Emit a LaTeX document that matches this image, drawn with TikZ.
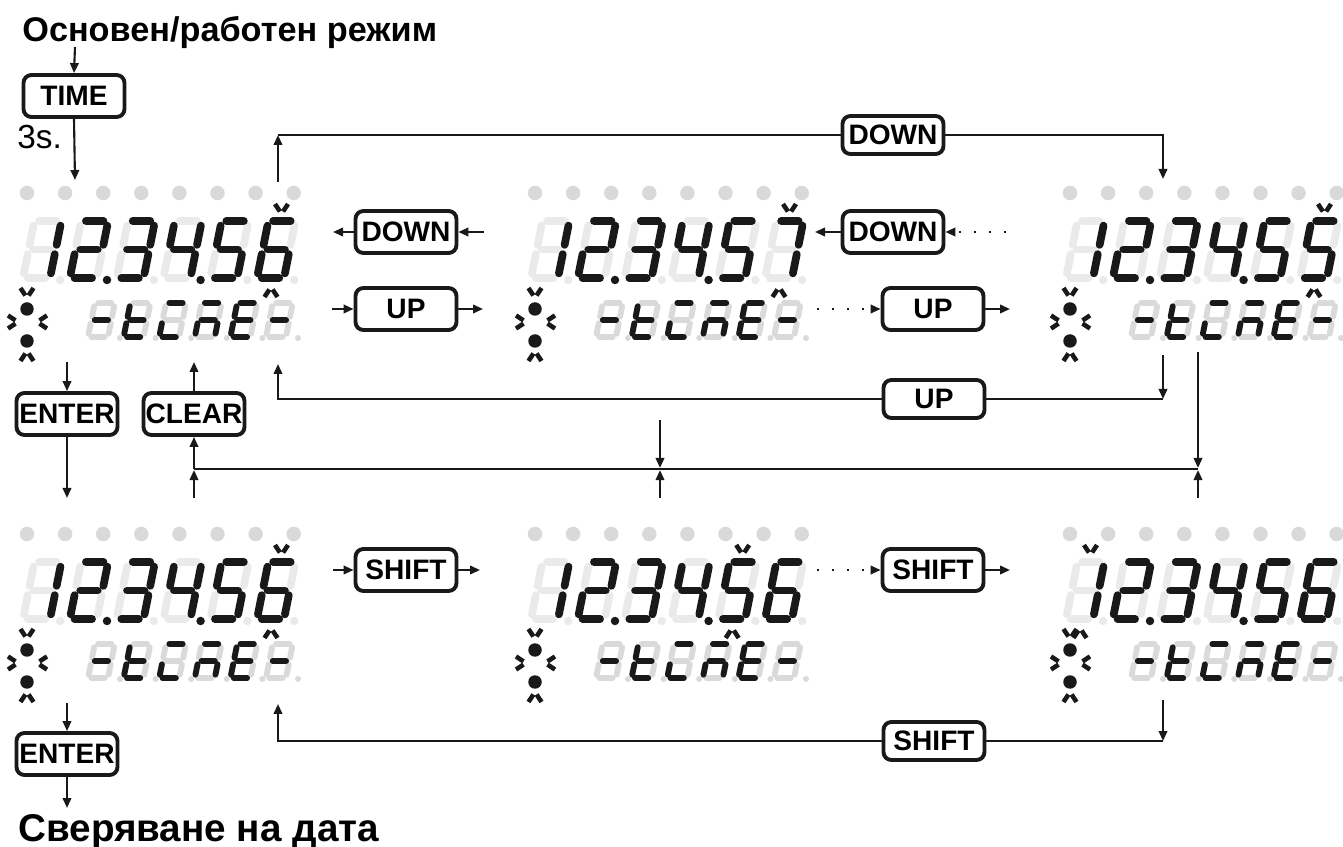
\documentclass[tikz,border=0pt]{standalone}
\usepackage{fontspec}
\setmainfont{Liberation Sans}
\usetikzlibrary{arrows.meta}

\definecolor{inkblack}{RGB}{25,25,25}
\definecolor{lampgray}{RGB}{217,217,217}
\definecolor{segpale}{RGB}{234,234,234}
\definecolor{segdim}{RGB}{218,218,218}

% segments of one digit, unit box, origin bottom left, y down
\def\segpa{(0,-1)--(1,-1)}
\def\segpb{(1,-1)--(1,-0.5)}
\def\segpc{(1,-0.5)--(1,0)}
\def\segpd{(0,0)--(1,0)}
\def\segpe{(0,-0.5)--(0,0)}
\def\segpf{(0,-1)--(0,-0.5)}
\def\segpg{(0,-0.5)--(1,-0.5)}

% lit segments
\def\dgOne{b,c}
\def\dgTwo{a,b,g,e,d}
\def\dgThree{a,b,g,c,d}
\def\dgFour{f,g,b,c}
\def\dgFive{a,f,g,c,d}
\def\dgSix{a,f,g,e,c,d}
\def\dgSeven{a,b,c}
\def\chDash{g}
\def\chT{f,g,e,d}
\def\chMl{a,e,d}
\def\chMr{a,g,e,c}
\def\chE{a,f,g,e,d}

\def\rowStd{\dgOne,\dgTwo,\dgThree,\dgFour,\dgFive,\dgSix}
\def\rowUp{\dgOne,\dgTwo,\dgThree,\dgFour,\dgFive,\dgSeven}
\def\rowDn{\dgOne,\dgTwo,\dgThree,\dgFour,\dgFive,\dgFive}

% #1 base point, #2 size style, #3 unlit colour, #4 lit segments
\newcommand{\segdigit}[4]{%
  \begin{scope}[shift={#1},xslant=0.2,#2]
    \foreach \s in {a,b,c,d,e,f,g}{%
      \expandafter\let\expandafter\segcur\csname segp\s\endcsname
      \draw[#3] \segcur;}
    \edef\seglist{#4}%
    \foreach \s in \seglist{%
      \expandafter\let\expandafter\segcur\csname segp\s\endcsname
      \draw[inkblack] \segcur;}
  \end{scope}}

% #1,#2 shift, #3 top digits, #4 cursor digit
\newcommand{\showdisp}[4]{%
  \begin{scope}[shift={(#1,#2)}]
    \foreach \k in {0,...,7} \fill[lampgray] (27+38.1*\k,193) circle (0.145cm);
    \foreach \dg [count=\i] in #3 {%
      \pgfmathsetmacro\bx{23+46.8*(\i-1)}
      \segdigit{(\bx,278)}{segbig}{segpale}{\dg}}
    \foreach \i/\c in {1/segpale,2/inkblack,3/segpale,4/inkblack,5/segpale,6/segpale}
      \fill[\c] (13.4+46.8*\i,280) circle (0.085cm);
    \pgfmathsetmacro\cx{23+46.8*(#4-1)}
    \pic at (\cx+24.5,209) {chev};
    \pic[rotate=180] at (\cx+14,292) {chev};
    \foreach \ch [count=\j] in {\chDash,\chT,\chMl,\chMr,\chE,\chDash} {%
      \pgfmathsetmacro\sx{88+35.6*(\j-1)}
      \segdigit{(\sx,337)}{segsmall}{segdim}{\ch}}
    \foreach \j in {1,...,6} \fill[segdim] (84.4+35.6*\j,338) circle (0.06cm);
    % blinking mark
    \pic at (27,293) {chev};
    \fill[inkblack] (27,309) circle (0.135cm);
    \pic[rotate=90] at (13,322) {chev};
    \pic[rotate=-90] at (42,322) {chev};
    \fill[inkblack] (27,341) circle (0.135cm);
    \pic[rotate=180] at (27,356) {chev};
  \end{scope}}

\begin{document}
\begin{tikzpicture}[x=0.02cm,y=-0.02cm,
  key/.style={draw=inkblack,line width=2.2pt,rounded corners=4.5pt,minimum width=2.02cm,minimum height=0.84cm,inner sep=1pt,font=\bfseries\fontsize{16}{18}\selectfont},
  loopkey/.style={key,minimum height=0.76cm},
  arr/.style={-{Triangle[length=0.2cm,width=0.17cm]},line width=1.2pt,draw=inkblack},
  meet/.style={arr,shorten >=0.6pt},
  dotarr/.style={arr,dash pattern=on 1.2pt off 7.3pt},
  wire/.style={line width=1.2pt,draw=inkblack},
  ttl/.style={anchor=base west,inner sep=0pt,font=\bfseries\fontsize{19.5}{23}\selectfont},
  segbig/.style={xscale=27,yscale=57,line width=4.4pt,line cap=round,shorten <=2.7pt,shorten >=2.7pt},
  segsmall/.style={xscale=20,yscale=34,line width=3.3pt,line cap=round,shorten <=1.9pt,shorten >=1.9pt},
  chev/.pic={\draw[inkblack,line width=2.6pt] (-6.5,-5)--(-1.6,2.5) (6.5,-5)--(1.6,2.5);},
]
\useasboundingbox (0,0) rectangle (1343,847);

% === DISPLAYS ===
\showdisp{0}{0}{\rowStd}{6}
\showdisp{508}{0}{\rowUp}{6}
\showdisp{1043}{0}{\rowDn}{6}
\showdisp{0}{341}{\rowStd}{6}
\showdisp{508}{341}{\rowStd}{5}
\showdisp{1043}{341}{\rowStd}{1}

% === KEYS ===
\node[ttl] (title1) at (22,42) {Основен/работен режим};
\node[key] (time) at (74,96) {TIME};
\node[anchor=base west,inner sep=0pt,font=\fontsize{19}{22}\selectfont] (hold) at (17,149) {3s.};
\node[loopkey] (dnTop) at (893,135) {DOWN};
\node[key] (dnA) at (406,232) {DOWN};
\node[key] (upA) at (406,309) {UP};
\node[key] (dnB) at (893,232) {DOWN};
\node[key] (upB) at (933,309) {UP};
\node[loopkey] (upLoop) at (934,399) {UP};
\node[key] (enterA) at (67,414) {ENTER};
\node[key] (clear) at (194,414) {CLEAR};
\node[key] (shA) at (406,570) {SHIFT};
\node[key] (shB) at (933,570) {SHIFT};
\node[loopkey] (shLoop) at (934,741) {SHIFT};
\node[key] (enterB) at (67,754) {ENTER};
\node[ttl,font=\bfseries\fontsize{22}{25}\selectfont] (title2) at (18,841) {Сверяване на дата};

% free ends
\foreach \nm/\px/\py in {ti0/75/47, ti1/75/180, lpA/278/182, lpB/278/135, lpC/1163/135, lpD/1163/179,
    sA1/484/232, sA2/333/232, sA3/332/309, sA4/483/309, sB1/1006/232, sB2/815/232, sB3/817/309, sB4/1010/309,
    lqA/1163/355, lqB/1163/399, lqC/278/399, lqD/278/364,
    eA1/67/362, eA2/67/498, cA1/194/362, cA2/194/498, bus0/194/469, bus1/660/469, bus2/1198/469,
    v2a/660/420, v3a/1198/352, u2/660/498, u3/1198/498,
    sC1/333/570, sC2/480/570, sD1/817/570, sD2/1010/570,
    lrA/1163/700, lrB/1163/741, lrC/278/741, lrD/278/704, eB1/67/703, eB2/67/808}
  \coordinate (\nm) at (\px,\py);

% === ROW 1 ===
\draw[arr] (ti0) -- (time.north);
\draw[arr] (time.south) -- (ti1);
\draw[arr] (lpA) -- (lpB);
\draw[wire] (lpB) -- (dnTop.west);
\draw[arr] (dnTop.east) -- (lpC) -- (lpD);
\draw[arr] (sA1) -- (dnA.east);
\draw[arr] (dnA.west) -- (sA2);
\draw[arr] (sA3) -- (upA.west);
\draw[arr] (upA.east) -- (sA4);
\draw[dotarr] (sB1) -- (dnB.east);
\draw[arr] (dnB.west) -- (sB2);
\draw[dotarr] (sB3) -- (upB.west);
\draw[arr] (upB.east) -- (sB4);
\draw[arr] (lqA) -- (lqB);
\draw[wire] (lqB) -- (upLoop.east);
\draw[arr] (upLoop.west) -- (lqC) -- (lqD);

% === ENTER / CLEAR ===
\draw[arr] (eA1) -- (enterA.north);
\draw[arr] (enterA.south) -- (eA2);
\draw[arr] (clear.north) -- (cA1);
\draw[arr] (bus0) -- (clear.south);
\draw[wire] (bus0) -- (bus2);
\draw[meet] (cA2) -- (bus0);
\draw[meet] (v2a) -- (bus1);
\draw[meet] (u2) -- (bus1);
\draw[meet] (v3a) -- (bus2);
\draw[meet] (u3) -- (bus2);

% === ROW 2 ===
\draw[arr] (sC1) -- (shA.west);
\draw[arr] (shA.east) -- (sC2);
\draw[dotarr] (sD1) -- (shB.west);
\draw[arr] (shB.east) -- (sD2);
\draw[arr] (lrA) -- (lrB);
\draw[wire] (lrB) -- (shLoop.east);
\draw[arr] (shLoop.west) -- (lrC) -- (lrD);
\draw[arr] (eB1) -- (enterB.north);
\draw[arr] (enterB.south) -- (eB2);

\end{tikzpicture}
\end{document}
